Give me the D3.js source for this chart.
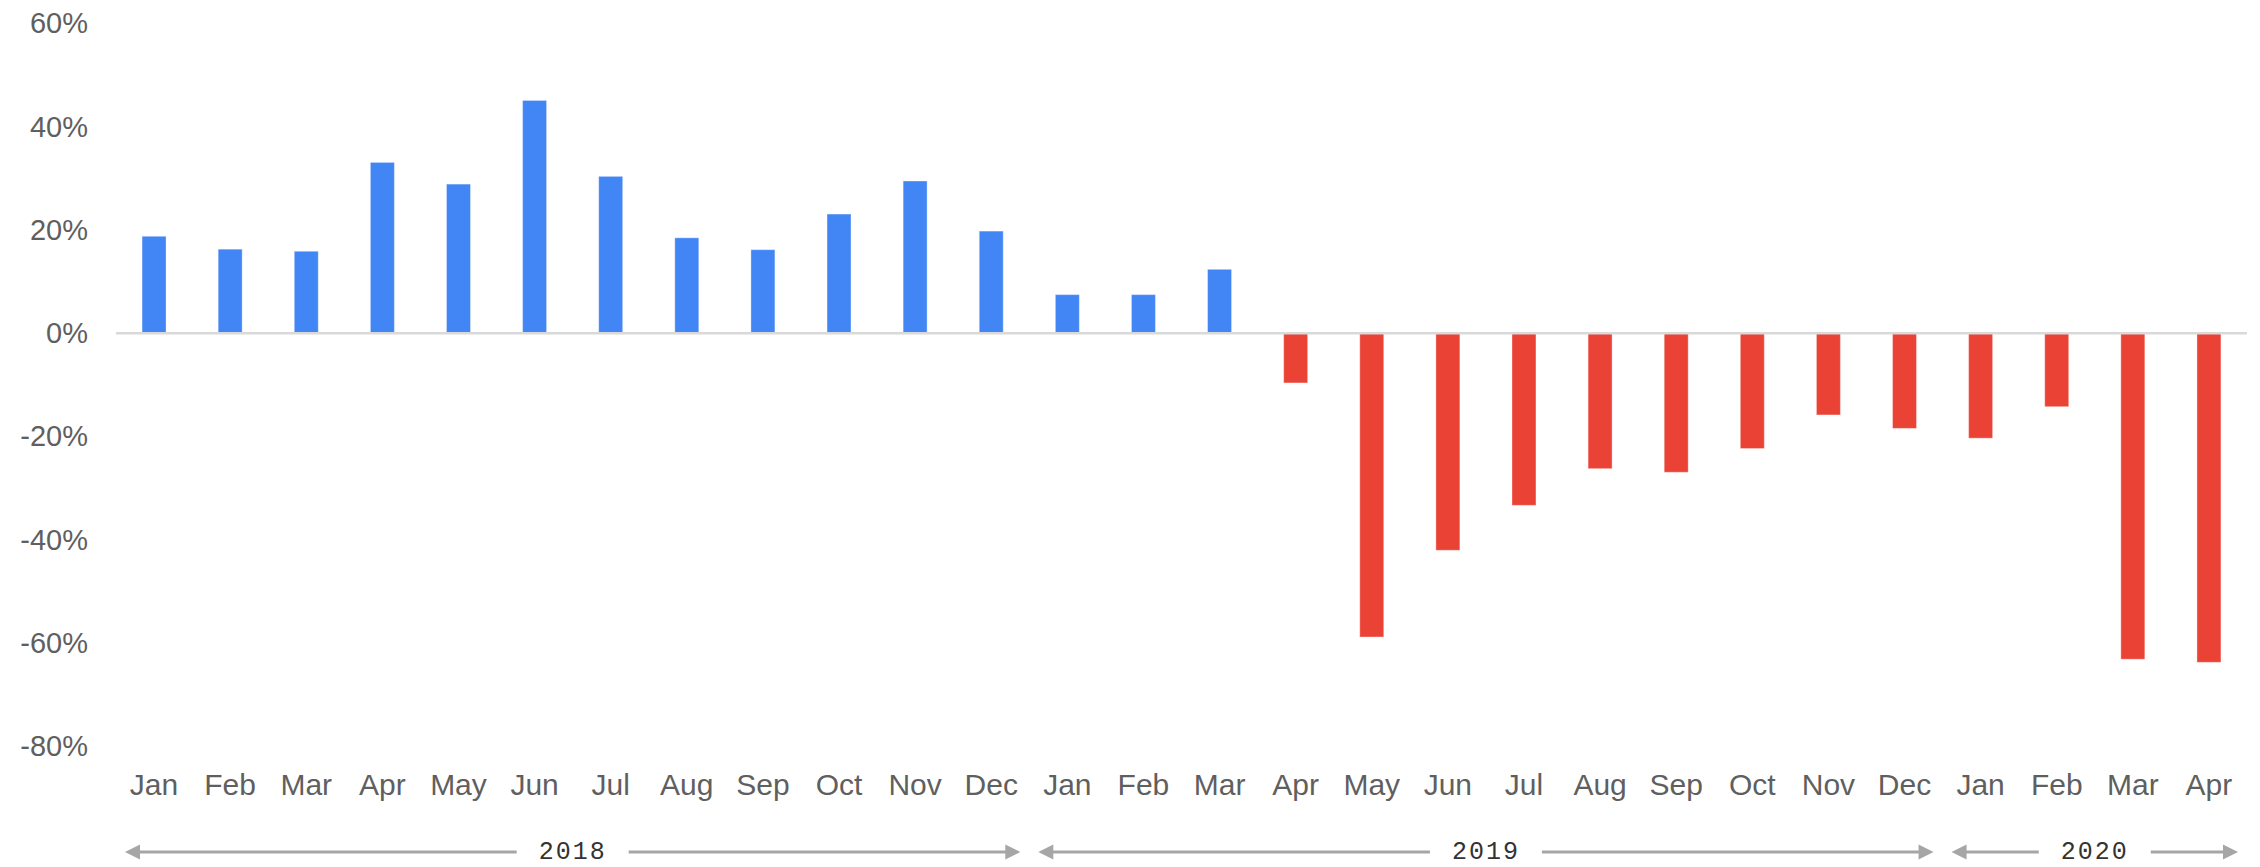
<!DOCTYPE html>
<html>
<head>
<meta charset="utf-8">
<script src="https://cdn.jsdelivr.net/npm/d3@7"></script>
<style>
  html, body { margin: 0; padding: 0; background: #fff; }
  svg { display: block; }
</style>
</head>
<body>
<svg id="chart" width="2260" height="867"></svg>
<script>
// Monthly year-over-year change, Jan 2018 – Apr 2020
const months = ["Jan","Feb","Mar","Apr","May","Jun","Jul","Aug","Sep","Oct","Nov","Dec",
                "Jan","Feb","Mar","Apr","May","Jun","Jul","Aug","Sep","Oct","Nov","Dec",
                "Jan","Feb","Mar","Apr"];
const values = [0.188, 0.163, 0.159, 0.331, 0.289, 0.451, 0.304, 0.185, 0.162, 0.231, 0.295, 0.198,
                0.075, 0.075, 0.124, -0.096, -0.588, -0.420, -0.333, -0.262, -0.269, -0.223, -0.158, -0.184,
                -0.203, -0.142, -0.631, -0.637];
const years = ["2018", "2019", "2020"];
const yearFirstMonth = [0, 12, 24];
const yearLastMonth = [11, 23, 27];
const yTicks = [-0.8, -0.6, -0.4, -0.2, 0, 0.2, 0.4, 0.6];

const svg = d3.select("#chart");
const plotLeft = 116, plotRight = 2247, plotTop = 23.5, plotBottom = 746.5;

const x = d3.scaleBand()
  .domain(d3.range(months.length))
  .range([plotLeft, plotRight])
  .paddingInner(0.685)
  .paddingOuter(0.3425);

const y = d3.scaleLinear()
  .domain([-0.8, 0.6])
  .range([plotBottom, plotTop]);

// percent labels with a plain hyphen for negatives
const pct = d3.formatLocale({ decimal: ".", thousands: ",", grouping: [3], currency: ["", ""], minus: "-" }).format(".0%");

// y axis labels
const yAxis = d3.axisLeft(y)
  .tickValues(yTicks)
  .tickFormat(pct)
  .tickSize(0)
  .tickPadding(8);

const gy = svg.append("g")
  .attr("transform", "translate(96,0)")
  .call(yAxis);
gy.select(".domain").remove();
gy.selectAll("text")
  .attr("fill", "#5f5f5f")
  .style("font-family", "'Liberation Sans', Arial, sans-serif")
  .style("font-size", "29px");

// bars
svg.append("g")
  .selectAll("rect")
  .data(values)
  .join("rect")
  .attr("x", (d, i) => x(i))
  .attr("width", x.bandwidth())
  .attr("y", d => y(Math.max(0, d)))
  .attr("height", d => Math.abs(y(d) - y(0)))
  .attr("fill", d => d >= 0 ? "#4285f4" : "#ea4335")
  .attr("stroke", "rgba(255,255,255,0.35)")
  .attr("stroke-width", 1);

// zero line
svg.append("line")
  .attr("x1", plotLeft)
  .attr("x2", plotRight)
  .attr("y1", y(0))
  .attr("y2", y(0))
  .attr("stroke", "#d9d9d9")
  .attr("stroke-width", 2.5);

// month labels
svg.append("g")
  .selectAll("text")
  .data(months)
  .join("text")
  .attr("x", (d, i) => x(i) + x.bandwidth() / 2)
  .attr("y", 795)
  .attr("text-anchor", "middle")
  .attr("fill", "#5f5f5f")
  .style("font-family", "'Liberation Sans', Arial, sans-serif")
  .style("font-size", "30px")
  .text(d => d);

// year spans with double-headed arrows
const arrowY = 852;
const arrowColor = "#a6a6a6";
const headLen = 15, headHalf = 7.5, inset = 9, textGap = 56;

const yearGroups = svg.append("g");
years.forEach((yr, k) => {
  const x0 = x(yearFirstMonth[k]) - x.step() * x.paddingInner() / 2 + inset;
  const x1 = x(yearLastMonth[k]) + x.bandwidth() + x.step() * x.paddingInner() / 2 - inset;
  const cx = (x0 + x1) / 2;
  const g = yearGroups.append("g");
  g.append("line")
    .attr("x1", x0 + headLen - 1).attr("x2", cx - textGap)
    .attr("y1", arrowY).attr("y2", arrowY)
    .attr("stroke", arrowColor).attr("stroke-width", 3);
  g.append("line")
    .attr("x1", cx + textGap).attr("x2", x1 - headLen + 1)
    .attr("y1", arrowY).attr("y2", arrowY)
    .attr("stroke", arrowColor).attr("stroke-width", 3);
  g.append("path")
    .attr("d", `M${x0},${arrowY}L${x0 + headLen},${arrowY - headHalf}L${x0 + headLen},${arrowY + headHalf}Z`)
    .attr("fill", arrowColor);
  g.append("path")
    .attr("d", `M${x1},${arrowY}L${x1 - headLen},${arrowY - headHalf}L${x1 - headLen},${arrowY + headHalf}Z`)
    .attr("fill", arrowColor);
  g.append("text")
    .attr("x", cx)
    .attr("y", 859)
    .attr("text-anchor", "middle")
    .attr("fill", "#333")
    .style("font-family", "'Liberation Mono', monospace")
    .style("font-size", "25px")
    .style("letter-spacing", "2px")
    .text(yr);
});
</script>
</body>
</html>
